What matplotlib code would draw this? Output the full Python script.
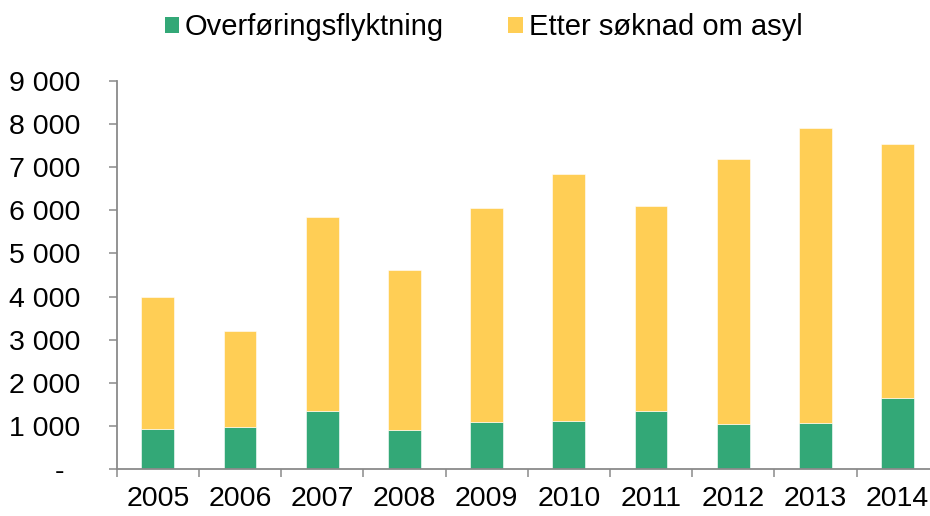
import matplotlib
matplotlib.use("Agg")
import matplotlib.pyplot as plt
from matplotlib.patches import Patch
import numpy as np

plt.rcParams["font.family"] = ["Liberation Sans", "DejaVu Sans"]

years = ["2005", "2006", "2007", "2008", "2009", "2010", "2011", "2012", "2013", "2014"]
overforing = [935, 980, 1345, 910, 1100, 1125, 1355, 1050, 1070, 1660]
totalt = [4000, 3195, 5845, 4620, 6050, 6830, 6105, 7185, 7910, 7540]
asyl = [t - o for t, o in zip(totalt, overforing)]

series_names = ["Overføringsflyktning", "Etter søknad om asyl"]
GREEN = "#33a877"
YELLOW = "#ffce55"
SPINE = "#8a8a8a"

yticks = list(range(0, 10000, 1000))
ytick_labels = ["-  "] + [f"{v // 1000} 000" for v in yticks[1:]]

fig = plt.figure(figsize=(9.3, 5.16), dpi=100)
ax = fig.add_axes([0.1255, 0.0905, 1 - 0.1255, 0.7531])

x = np.arange(len(years))
ax.bar(x, overforing, width=0.4, color=GREEN, edgecolor="white", linewidth=0.4, zorder=2)
ax.bar(x, asyl, width=0.4, bottom=overforing, color=YELLOW, edgecolor="white",
       linewidth=0.4, zorder=2)

ax.set_xlim(-0.5, 9.394)
ax.set_ylim(0, 9000)

# y-akse
ax.set_yticks(yticks)
ax.set_yticklabels(ytick_labels, fontsize=20.5)
ax.tick_params(axis="y", direction="out", length=6, width=1.1, color=SPINE, pad=20)

# x-akse: streker mellom kategoriene, etiketter i midten
ax.set_xticks(np.arange(-0.5, 9.5, 1.0))
ax.set_xticklabels([])
ax.set_xticks(x, minor=True)
ax.set_xticklabels(years, minor=True, fontsize=20.5)
ax.tick_params(axis="x", which="major", direction="out", length=6, width=1.1, color=SPINE)
ax.tick_params(axis="x", which="minor", length=0, pad=12)

for side in ("top", "right"):
    ax.spines[side].set_visible(False)
for side in ("left", "bottom"):
    ax.spines[side].set_color(SPINE)
    ax.spines[side].set_linewidth(1.3)

handles = [Patch(facecolor=GREEN), Patch(facecolor=YELLOW)]
fig.legend(handles, series_names, loc="upper center", bbox_to_anchor=(0.52, 1.025),
           ncol=2, frameon=False, fontsize=21, handlelength=0.5, handleheight=0.5,
           handletextpad=0.2, columnspacing=2.2)

fig.savefig("out.png", dpi=100)
